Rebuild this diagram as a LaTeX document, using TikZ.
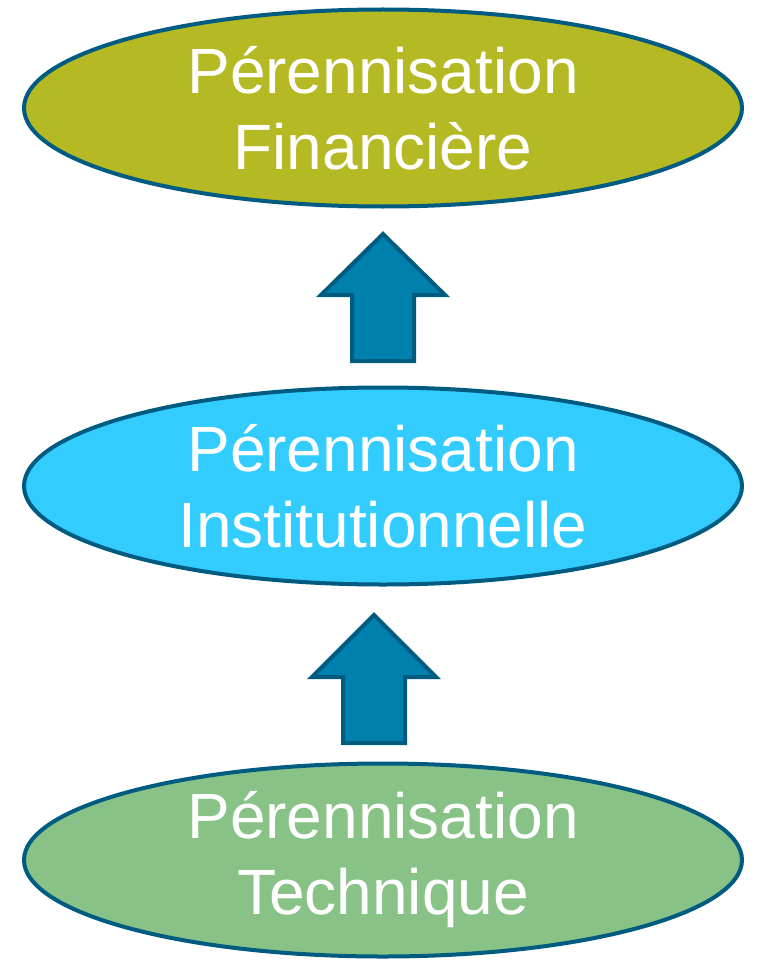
\documentclass[tikz,border=0pt]{standalone}
\usepackage{fontspec}
\setmainfont{Liberation Sans}
\usetikzlibrary{shapes.geometric}
\definecolor{edge}{HTML}{005B80}
\definecolor{olive}{HTML}{B5B923}
\definecolor{sky}{HTML}{33CCFF}
\definecolor{leaf}{HTML}{88C287}
\definecolor{arrowfill}{HTML}{0080AD}
\tikzset{
  oval/.style={ellipse, draw=edge, line width=4pt, minimum width=718pt, minimum height=197pt,
    inner sep=0pt, text=white, align=center, font=\fontsize{64}{76}\selectfont},
  blockarrow/.style={draw=edge, fill=arrowfill, line width=4pt, line join=miter}
}
\begin{document}
\begin{tikzpicture}[x=1pt,y=-1pt]
\useasboundingbox (0,0) rectangle (756,963);
\node[oval, fill=olive] (fin) at (383,108) {Pérennisation\\Financière};
\node[oval, fill=sky] (inst) at (383,486) {Pérennisation\\Institutionnelle};
\node[oval, fill=leaf, minimum height=193pt] (tech) at (383,860) {Pérennisation\\Technique};
\coordinate (a1) at (383,361);
\coordinate (a2) at (374,743);
\draw[blockarrow] (a1) ++(-31,0) -- ++(0,-66) -- ++(-31,0) -- ++(62,-61) -- ++(62,61) -- ++(-31,0) -- ++(0,66) -- cycle;
\draw[blockarrow] (a2) ++(-31,0) -- ++(0,-66) -- ++(-31,0) -- ++(62,-62) -- ++(62,62) -- ++(-31,0) -- ++(0,66) -- cycle;
\end{tikzpicture}
\end{document}
